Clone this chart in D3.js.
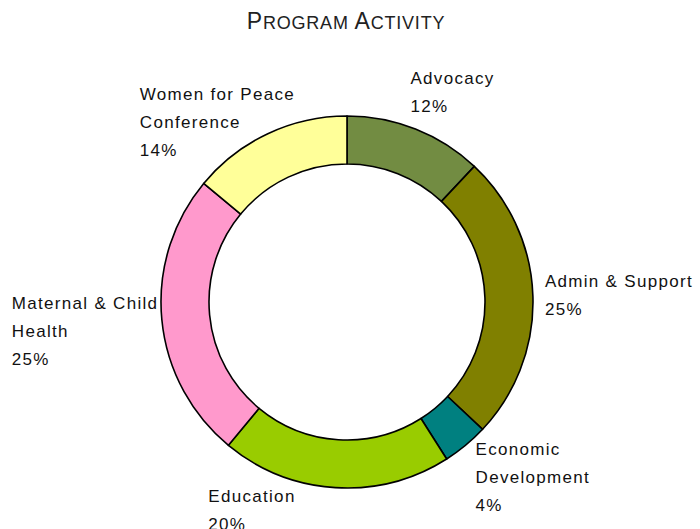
<!DOCTYPE html>
<html>
<head>
<meta charset="utf-8">
<script src="https://cdn.jsdelivr.net/npm/d3@7"></script>
<style>
  body { margin: 0; background: #fff; }
  svg { display: block; }
</style>
</head>
<body>
<div id="chart"></div>
<script>
// Program activity shares (percent)
const categories = ["Advocacy", "Admin & Support", "Economic Development", "Education", "Maternal & Child Health", "Women for Peace Conference"];
const values = [12, 25, 4, 20, 25, 14];
const labelLines = [["Advocacy"], ["Admin & Support"], ["Economic", "Development"], ["Education"], ["Maternal & Child", "Health"], ["Women for Peace", "Conference"]];
const colors = ["#728c42", "#808000", "#008080", "#99cc00", "#ff99cc", "#ffff99"];

// nudges from each slice's outer mid point to its label block (layout only)
const labelNudge = [[-5, -45], [12, -9], [10, 10], [-127, 14], [-150, -11], [-128, -34]];

const width = 700, height = 529;
const cx = 347, cy = 302;
const outerR = 186, innerR = 138;

const svg = d3.select("#chart").append("svg")
  .attr("width", width)
  .attr("height", height);

// title, drawn as small caps by hand
const title = svg.append("text")
  .attr("x", 346)
  .attr("y", 29)
  .attr("text-anchor", "middle")
  .attr("font-family", "Liberation Sans, Arial, sans-serif")
  .attr("letter-spacing", 0.8)
  .attr("fill", "#222");
[["P", 23], ["ROGRAM ", 18], ["A", 23], ["CTIVITY", 18]].forEach(([t, s]) => {
  title.append("tspan").attr("font-size", s).text(t);
});

const data = categories.map((c, i) => ({ name: c, value: values[i], lines: labelLines[i], color: colors[i] }));

const pie = d3.pie().value(d => d.value).sort(null);
const arc = d3.arc().innerRadius(innerR).outerRadius(outerR);
const edgeArc = d3.arc().innerRadius(outerR).outerRadius(outerR);

const g = svg.append("g").attr("transform", `translate(${cx},${cy})`);
const arcs = pie(data);

g.selectAll("path")
  .data(arcs)
  .enter()
  .append("path")
  .attr("d", arc)
  .attr("fill", d => d.data.color)
  .attr("stroke", "#000")
  .attr("stroke-width", 1.6)
  .attr("stroke-linejoin", "round");

// labels
const labels = g.selectAll("text.label")
  .data(arcs)
  .enter()
  .append("text")
  .attr("class", "label")
  .attr("font-family", "Liberation Sans, Arial, sans-serif")
  .attr("font-size", 17)
  .attr("letter-spacing", 1.3)
  .attr("fill", "#111")
  .attr("transform", (d, i) => {
    const [x, y] = edgeArc.centroid(d);
    return `translate(${x + labelNudge[i][0]},${y + labelNudge[i][1]})`;
  });

labels.each(function (d) {
  const t = d3.select(this);
  const lines = d.data.lines.concat([d.data.value + "%"]);
  lines.forEach((l, j) => {
    t.append("tspan").attr("x", 0).attr("y", j * 28).text(l);
  });
});
</script>
</body>
</html>
